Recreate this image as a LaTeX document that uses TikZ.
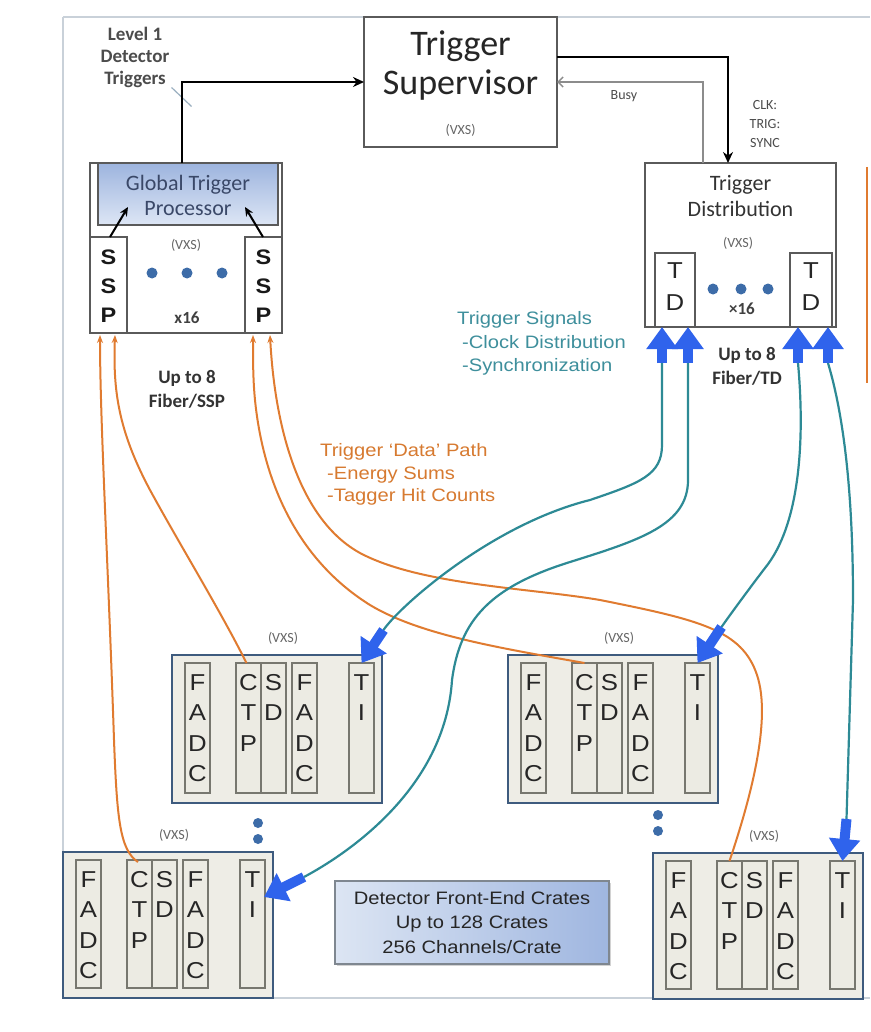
\documentclass[tikz,border=0pt]{standalone}
\usepackage{fontspec}
\setmainfont{Carlito}
\newfontfamily\arialw{Liberation Sans}[FakeStretch=1.12]
\usetikzlibrary{arrows.meta,calc,shadows}
\definecolor{framegray}{HTML}{C9D1D9}
\definecolor{boxgray}{HTML}{5A5A5A}
\definecolor{crateblue}{HTML}{3E5B7E}
\definecolor{cratefill}{HTML}{EEEDE6}
\definecolor{slotgray}{HTML}{77776F}
\definecolor{slotfill}{HTML}{ECEBE3}
\definecolor{dotblue}{HTML}{3D6CA8}
\definecolor{arrblue}{HTML}{2F63EC}
\definecolor{tealline}{HTML}{2D8A95}
\definecolor{tealtext}{HTML}{3E8F9C}
\definecolor{orangeline}{HTML}{E07B30}
\definecolor{orangetext}{HTML}{D77A30}
\definecolor{gtptop}{HTML}{9DB4DE}
\definecolor{gtpbot}{HTML}{DDE6F5}
\definecolor{gtptext}{HTML}{3A4868}
\definecolor{feleft}{HTML}{DCE5F3}
\definecolor{feright}{HTML}{9FB6E0}
\definecolor{fegray}{HTML}{7F8790}
\definecolor{ptrline}{HTML}{9AAFC0}
\tikzset{
  box/.style={draw=boxgray, line width=1.3pt, fill=white, inner sep=0pt, outer sep=0pt, anchor=north west},
  shadedbox/.style={draw=boxgray, line width=1.2pt, inner sep=0pt, outer sep=0pt, anchor=north west, top color=gtptop, bottom color=gtpbot},
  crate/.style={draw=crateblue, line width=2.5pt, fill=cratefill, inner sep=0pt, outer sep=0pt, minimum width=210pt, anchor=north west},
  slot/.style={draw=slotgray, line width=1.2pt, fill=slotfill, inner sep=0pt, outer sep=0pt, minimum width=25pt, anchor=north west},
  slotletter/.style={font=\arialw\fontsize{23}{23}\selectfont, text=black!85, inner sep=0pt, text height=16.5pt, text depth=0pt},
  sspletter/.style={font=\arialw\bfseries\fontsize{21}{21}\selectfont, text=black!90, inner sep=0pt, text height=15pt, text depth=0pt},
  tdletter/.style={font=\arialw\fontsize{23}{23}\selectfont, text=black!85, inner sep=0pt, text height=16.5pt, text depth=0pt},
  vxs/.style={font=\fontsize{14}{14}\selectfont, text=black!60, inner sep=0pt},
  smalltxt/.style={font=\fontsize{14}{19}\selectfont, text=black!70, align=center, inner sep=0pt},
  boldlbl/.style={font=\bfseries\fontsize{19}{24}\selectfont, text=black!80, align=center, inner sep=0pt},
  blk/.style={draw=black, line width=2.5pt, -{Stealth[length=11pt,width=10pt]}},
  busy/.style={draw=black!45, line width=1.5pt, -{Straight Barb[length=5pt,width=10pt]}},
  barrow/.style={draw=arrblue, line width=10pt, -{Triangle[width=30pt,length=22pt]}},
  teal/.style={draw=tealline, line width=2.2pt},
  oline/.style={draw=orangeline, line width=2pt, -{Stealth[length=8pt,width=6pt]}},
  framel/.style={draw=framegray, line width=1.5pt},
  fe/.style={draw=fegray, line width=1.5pt, left color=feleft, right color=feright,
    drop shadow={shadow xshift=2pt, shadow yshift=-2pt, opacity=0.35},
    minimum width=274pt, minimum height=83pt, align=center, inner sep=0pt,
    font=\arialw\fontsize{18}{24.5}\selectfont, text=black!85},
}
\newcommand{\mkslot}[5]{%
  \node[slot, minimum height=#4pt] (#1) at (#2,#3) {};
  \foreach \l [count=\i] in {#5} {%
    \pgfmathsetmacro\dy{19+30.5*(\i-1)}
    \node[slotletter] at ($(#1.north)+(0,\dy)$) {\l};
  }%
}
\newcommand{\mkcrate}[5]{%
  \node[crate, minimum height=#4pt] (#1) at (#2,#3) {};
  \node[vxs] (#1vxs) at (#2+111,#3-17) {(VXS)};
  \mkslot{#1fadcA}{#2+13}{#3+8}{#5}{F,A,D,C}
  \mkslot{#1ctp}{#2+64}{#3+8}{#5}{C,T,P}
  \mkslot{#1sd}{#2+89}{#3+8}{#5}{S,D}
  \mkslot{#1fadcB}{#2+120}{#3+8}{#5}{F,A,D,C}
  \mkslot{#1ti}{#2+177}{#3+8}{#5}{T,I}
}
\begin{document}
\begin{tikzpicture}[x=1pt,y=-1pt]
\useasboundingbox (0,0) rectangle (870,1032);
\fill[white] (0,0) rectangle (870,1032);
% frame
\draw[framel] (63,17) -- (870,17);
\draw[framel] (63,17) -- (63,998);
\draw[framel] (63,998) -- (870,998);
\draw[draw=orangeline, line width=2.5pt] (867,167) -- (867,383);

% Trigger Supervisor
\node[box, minimum width=193pt, minimum height=130pt] (sup) at (364,17) {};
\node[font=\fontsize{36}{39}\selectfont, align=center, text=black!85, inner sep=0pt] (suptxt) at (460.5,66) {Trigger\\Supervisor};
\node[vxs] (supvxs) at (460.5,130) {(VXS)};

% Trigger Distribution
\node[box, minimum width=191pt, minimum height=164pt] (dist) at (645,163) {};
\node[font=\fontsize{22}{26}\selectfont, align=center, text=black!80, inner sep=0pt] (disttxt) at (740.5,196) {Trigger\\Distribution};
\node[vxs] (distvxs) at (738,243) {(VXS)};
\node[box, minimum width=40pt, minimum height=74pt] (td1) at (655,253) {};
\node[box, minimum width=42pt, minimum height=74pt] (td2) at (790,253) {};
\node[tdletter] (td1t) at (675,270) {T};
\node[tdletter] (td1d) at (675,302) {D};
\node[tdletter] (td2t) at (811,270) {T};
\node[tdletter] (td2d) at (811,302) {D};
\fill[dotblue] (713,289) circle[radius=5.5pt];
\fill[dotblue] (741,289) circle[radius=5.5pt];
\fill[dotblue] (768,289) circle[radius=5.5pt];
\node[font=\bfseries\fontsize{17}{17}\selectfont, text=black!75, inner sep=0pt] (tdx) at (742,309) {×16};

% Global Trigger Processor
\node[box, minimum width=192pt, minimum height=170pt] (gtp) at (90,163) {};
\node[shadedbox, minimum width=180pt, minimum height=62pt] (gtpin) at (98,163) {};
\node[font=\fontsize{22}{25}\selectfont, align=center, text=gtptext, inner sep=0pt] (gtptxt) at (188,195) {Global Trigger\\Processor};
\node[vxs] (gtpvxs) at (186,245) {(VXS)};
\node[box, minimum width=37pt, minimum height=96pt] (sspL) at (90,237) {};
\node[box, minimum width=37pt, minimum height=96pt] (sspR) at (245,237) {};
\foreach \l/\yy in {S/257,S/286,P/315} {
  \node[sspletter] at (108.5,\yy) {\l};
  \node[sspletter] at (263.5,\yy) {\l};
}
\fill[dotblue] (152,273) circle[radius=5.5pt];
\fill[dotblue] (187,273) circle[radius=5.5pt];
\fill[dotblue] (222,273) circle[radius=5.5pt];
\node[font=\bfseries\fontsize{17}{17}\selectfont, text=black!75, inner sep=0pt] (gtpx) at (187,318) {x16};
\coordinate (pL) at (128,207);
\coordinate (pR) at (245,207);
\draw[draw=black, line width=2pt, -{Stealth[length=9pt,width=8pt]}] ($(sspL.north)+(1.5,0)$) -- (pL);
\draw[draw=black, line width=2pt, -{Stealth[length=9pt,width=8pt]}] ($(sspR.north)+(-0.5,0)$) -- (pR);

% labels
\node[font=\bfseries\fontsize{19}{22}\selectfont, align=center, text=black!70, inner sep=0pt] (l1lab) at (135,57) {Level 1\\Detector\\Triggers};
\draw[draw=ptrline, line width=1.2pt] ($(l1lab.south east)+(2,0)$) -- ++(20,19);
\node[smalltxt] (busylab) at (624,96) {Busy};
\node[smalltxt] (clklab) at (765,124) {CLK:\\TRIG:\\SYNC};
\node[boldlbl] (ssplab) at (187,389) {Up to 8\\Fiber/SSP};
\node[boldlbl] (tdlab) at (747,366) {Up to 8\\Fiber/TD};
\node[anchor=north west, align=left, inner sep=0pt, text=tealtext, font=\arialw\fontsize{18}{23.5}\selectfont] (siglab) at (457,311.5) {Trigger Signals\\\hspace*{5pt}-Clock Distribution\\\hspace*{5pt}-Synchronization};
\node[anchor=north west, align=left, inner sep=0pt, text=orangetext, font=\arialw\fontsize{18}{22.5}\selectfont] (datalab) at (320,443.5) {Trigger ‘Data’ Path\\\hspace*{7pt}-Energy Sums\\\hspace*{7pt}-Tagger Hit Counts};

% top connectors
\draw[blk] ($(gtp.north)+(-4,0)$) |- (sup.west);
\draw[blk] ($(sup.north east)+(0,40)$) -| ($(dist.north)+(-12.5,0)$);
\draw[busy] ($(dist.north)+(-37.5,0)$) |- (sup.east);

% crates
\mkcrate{c2}{172}{655}{148}{130}
\mkcrate{c3}{508}{655}{148}{130}
\mkcrate{c1}{63}{852}{146}{128}
\mkcrate{c4}{653}{853}{146}{128}
\fill[dotblue] (258,823) circle[radius=5pt];
\fill[dotblue] (258,839) circle[radius=5pt];
\fill[dotblue] (658,815) circle[radius=5pt];
\fill[dotblue] (658,831) circle[radius=5pt];

\node[fe] (fe) at (472,922.5) {Detector Front-End Crates\\Up to 128 Crates\\256 Channels/Crate};

% orange data paths
\draw[oline] ($(c1ctp.north)+(-1.5,2)$) .. controls (120,850) and (117,820) .. (114,740)
   .. controls (108,560) and (100,420) .. ($(sspL.south)+(-8.5,2)$);
\draw[oline] ($(c2ctp.north)+(-2,0)$) .. controls (220,610) and (180,545) .. (150,490)
   .. controls (118,430) and (113,390) .. ($(sspR.south)+(-148.5,2)$);
\draw[oline] (c3ctp.north) .. controls (500,648) and (420,635) .. (370,605)
   .. controls (290,555) and (262,470) .. (255,400) .. controls (253,380) and (253,360) .. ($(sspR.south)+(-10.5,2)$);
\draw[oline] (c4ctp.north) .. controls (750,800) and (772,720) .. (757,675)
   .. controls (742,630) and (700,620) .. (600,600) .. controls (530,588) and (420,585) .. (360,553)
   .. controls (300,520) and (275,430) .. ($(sspR.south)+(6.5,2)$);

% teal trigger signal paths with blue arrows
\coordinate (b1) at ($(td1.south)+(-13,36)$);
\coordinate (b2) at ($(td1.south)+(13,36)$);
\coordinate (b3) at ($(td2.south)+(-13,36)$);
\coordinate (b4) at ($(td2.south)+(17,36)$);
\coordinate (e1) at ($(c2ti.north)+(22,-33)$);
\coordinate (e2) at ($(c3ti.north)+(24,-36)$);
\coordinate (t3) at ($(c1ti.north east)+(-1,37)$);
\coordinate (e3) at ($(t3)+(40,-20)$);
\coordinate (e4) at ($(c4ti.north)+(4,-42)$);

\draw[teal] (b1) -- (662,445) .. controls (662,475) and (640,483) .. (590,500)
   .. controls (490,525) and (398,608) .. (e1);
\draw[teal] (b2) -- (688,480) .. controls (688,525) and (640,540) .. (570,562)
   .. controls (490,587) and (460,620) .. (452,680) .. controls (445,790) and (345,855) .. (e3);
\draw[teal] (b3) .. controls (805,440) and (800,525) .. (765,568)
   .. controls (752,585) and (732,612) .. (e2);
\draw[teal] (b4) .. controls (845,420) and (853,500) .. (853,600) -- (e4);

\draw[barrow] (b1) -- (b1 |- td1.south);
\draw[barrow] (b2) -- (b2 |- td1.south);
\draw[barrow] (b3) -- (b3 |- td2.south);
\draw[barrow] (b4) -- (b4 |- td2.south);
\draw[barrow] (e1) -- (c2ti.north);
\draw[barrow] (e2) -- (c3ti.north);
\draw[barrow] (e3) -- (t3);
\draw[barrow] (e4) -- (c4ti.north);
\end{tikzpicture}
\end{document}
